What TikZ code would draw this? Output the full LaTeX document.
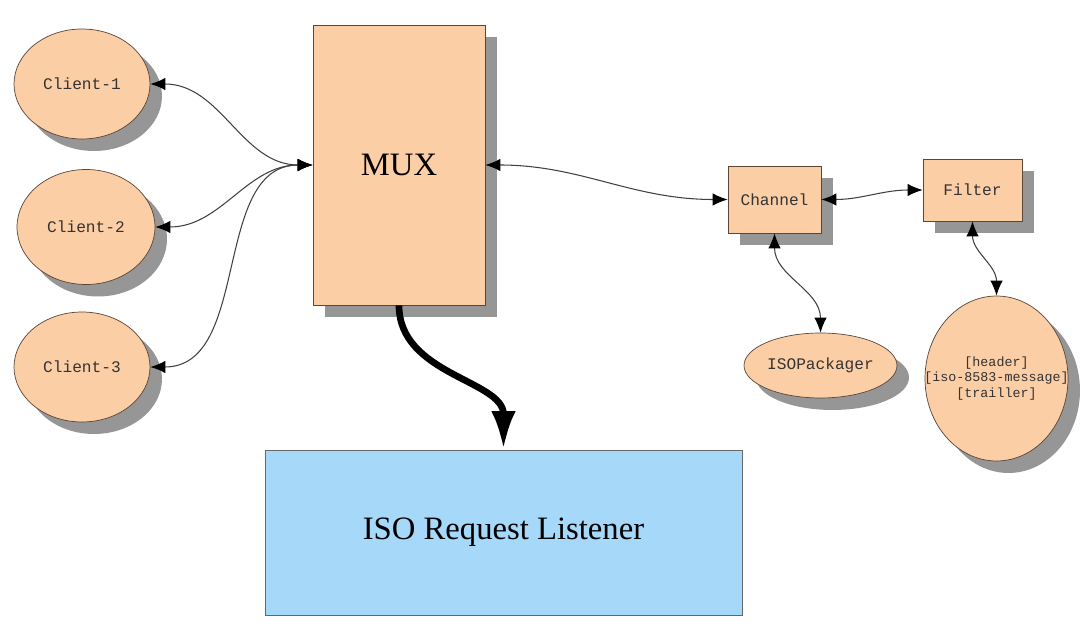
\documentclass[tikz,border=0pt]{standalone}
\usepackage{fontspec}
\setmainfont{Liberation Serif}
\setmonofont{Liberation Mono}
\usetikzlibrary{arrows.meta}
\usetikzlibrary{shapes.geometric, shadows}
\definecolor{peach}{RGB}{252,206,166}
\definecolor{skyblue}{RGB}{166,216,250}
\definecolor{shadowgray}{RGB}{150,150,150}
\definecolor{rimbrown}{RGB}{90,70,55}

\begin{document}
\begin{tikzpicture}[x=0.02cm, y=-0.02cm]
            \tikzstyle{shad}=[drop shadow={shadow xshift=0.24cm, shadow yshift=-0.24cm, fill=shadowgray, opacity=1}];
            \tikzstyle{myEll}=[ellipse, draw=rimbrown, fill=peach, shad, inner sep=0pt, text=black!80, font=\ttfamily\fontsize{9.2}{11}\selectfont];
            \tikzstyle{myBox}=[rectangle, draw=rimbrown, fill=peach, shad, inner sep=0pt, text=black!80, font=\ttfamily\fontsize{9.2}{11}\selectfont];
            \tikzstyle{link}=[{Latex[length=8.5pt,width=7pt,color=black]}-{Latex[length=8.5pt,width=7pt,color=black]}, draw=black!75, line width=0.6pt];
            \tikzstyle{fat}=[{Latex[length=22pt,width=14pt]}-, draw=black, line width=3.8pt];
            \useasboundingbox (0,0) rectangle (1092,638);
            \node[myEll, minimum width=2.72cm, minimum height=2.2cm] (client1) at (82,84) {Client-1};
            \node[myEll, minimum width=2.76cm, minimum height=2.3cm] (client2) at (86,227) {Client-2};
            \node[myEll, minimum width=2.72cm, minimum height=2.2cm] (client3) at (82,367) {Client-3};
            \node[myBox, minimum width=3.44cm, minimum height=5.6cm, text=black,
                  font=\rmfamily\fontsize{18.6}{22}\selectfont] (mux) at (399,165) {MUX}
                  edge[link, out=180, in=0] (client1)
                  edge[link, out=180, in=0] (client2)
                  edge[link, out=180, in=0] (client3);
            \node[myBox, minimum width=1.86cm, minimum height=1.34cm] (channel) at (774.5,199.5) {Channel}
                  edge[link, out=180, in=0] (mux);
            \node[myBox, minimum width=1.98cm, minimum height=1.24cm] (filter) at (972.5,190) {Filter}
                  edge[link, out=180, in=0] (channel);
            \node[myEll, minimum width=3.06cm, minimum height=1.3cm] (packager) at (820.5,365.5) {ISOPackager}
                  edge[link, out=90, in=-90] (channel);
            \node[myEll, minimum width=2.86cm, minimum height=3.3cm,
                  label={[font=\ttfamily\fontsize{7.6}{8.8}\selectfont, text=black!80, align=center]center:{[header]\\{}[iso-8583-message]\\{}[trailler]}}]
                  (message) at (996.5,378.5) {}
                  edge[link, out=90, in=-90] (filter);
            \node[rectangle, draw=black!60, fill=skyblue, minimum width=9.54cm, minimum height=3.3cm,
                  font=\rmfamily\fontsize{18.6}{22}\selectfont] (listener) at (503.5,532.5) {ISO Request Listener}
                  edge[fat, out=90, in=-90] (mux);
\end{tikzpicture}
\end{document}
